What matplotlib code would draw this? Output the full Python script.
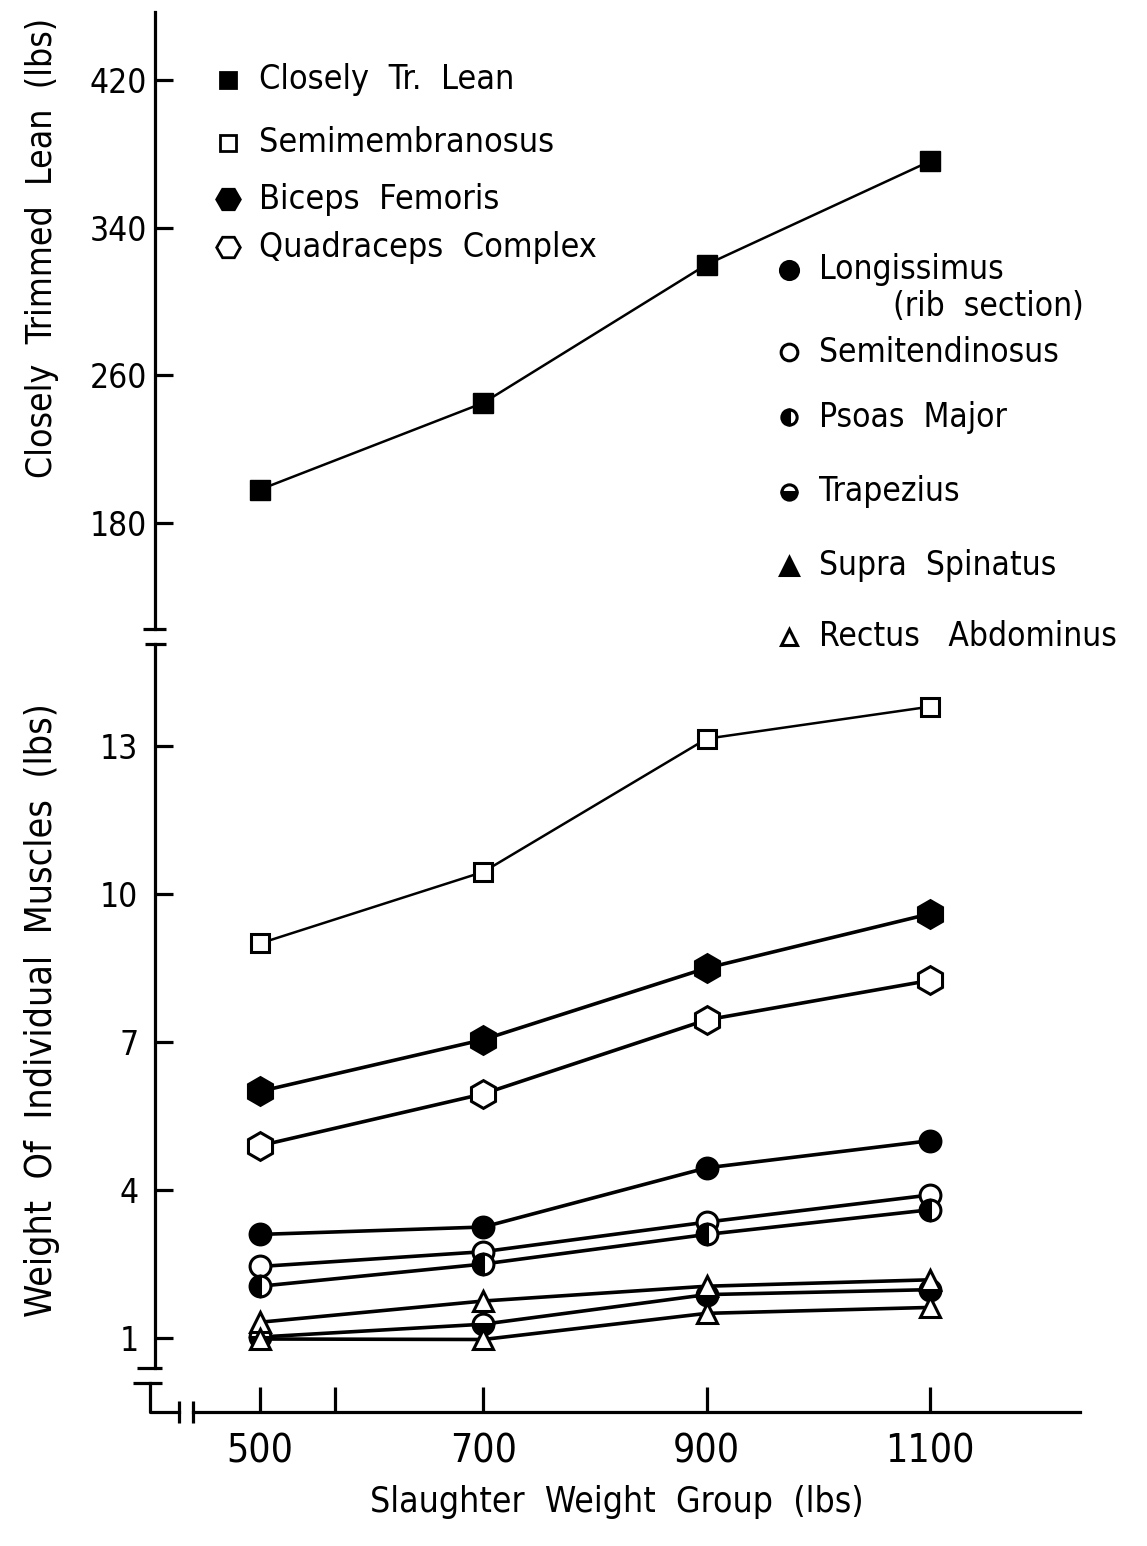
import matplotlib
matplotlib.use("Agg")
import matplotlib.pyplot as plt

plt.rcParams['font.family'] = ['DejaVu Sans']
plt.rcParams['font.stretch'] = 'condensed'

# slaughter weight groups (lbs)
groups = [500, 700, 900, 1100]

# upper panel: closely trimmed lean (lbs)
lean = [198, 245, 320, 376]

# lower panel: individual muscles (lbs)
semimembranosus = [9.0, 10.45, 13.15, 13.8]
biceps = [6.0, 7.05, 8.5, 9.6]
quadraceps = [4.9, 5.95, 7.45, 8.25]
longissimus = [3.1, 3.25, 4.45, 5.0]
semitendinosus = [2.45, 2.75, 3.35, 3.9]
psoas = [2.05, 2.5, 3.1, 3.6]
trapezius = [1.02, 1.28, 1.88, 1.98]
supra = [1.32, 1.75, 2.05, 2.18]
rectus = [0.98, 0.97, 1.5, 1.62]

top_ticks = [180, 260, 340, 420]
bot_ticks = [1, 4, 7, 10, 13]
x_ticks = [500, 567, 700, 900, 1100]
x_labels = ['500', '', '700', '900', '1100']

W, H = 1147, 1546
fig = plt.figure(figsize=(W / 100, H / 100), dpi=100)


def fx(px):
    return px / W


def fy(py):
    return 1 - py / H


ax_left, ax_right = 155, 1080
ax_top = fig.add_axes([fx(ax_left), fy(629), fx(ax_right - ax_left), fy(12) - fy(629)])
ax_bot = fig.add_axes([fx(ax_left), fy(1412), fx(ax_right - ax_left), fy(644) - fy(1412)])

xlim = (406, 1234.3)
lw = 2.3
for ax in (ax_top, ax_bot):
    ax.set_xlim(*xlim)
    ax.patch.set_alpha(0)
    for s in ('top', 'right'):
        ax.spines[s].set_visible(False)
    ax.spines['left'].set_linewidth(lw)
    ax.tick_params(axis='y', direction='in', length=13, width=lw, pad=6, labelsize=24)

# upper axes
ax_top.set_ylim(122.4, 456.9)
ax_top.spines['bottom'].set_visible(False)
ax_top.set_xticks([])
ax_top.set_yticks(top_ticks)
ax_top.plot(groups, lean, color='black', lw=1.8, marker='s', ms=14,
            mfc='black', mec='black', clip_on=False)

# lower axes
ax_bot.set_ylim(-0.5, 15.07)
ax_bot.spines['left'].set_bounds(0.392, 15.07)
ax_bot.spines['bottom'].set_bounds(440, 1234.3)
ax_bot.spines['bottom'].set_linewidth(lw)
ax_bot.set_yticks(bot_ticks)
ax_bot.tick_params(axis='y', pad=12)
ax_bot.set_xticks(x_ticks)
ax_bot.set_xticklabels(x_labels)
ax_bot.tick_params(axis='x', direction='in', length=18, width=lw, pad=15, labelsize=28)

mk = dict(color='black', lw=2.6, mec='black', mew=2.2, clip_on=False)
ax_bot.plot(groups, semimembranosus, marker='s', ms=13, mfc='white', lw=1.8,
            color='black', mec='black', mew=2.2)
ax_bot.plot(groups, biceps, marker='h', ms=20, mfc='black', **mk)
ax_bot.plot(groups, quadraceps, marker='h', ms=20, mfc='white', **mk)
ax_bot.plot(groups, longissimus, marker='o', ms=15, mfc='black', **mk)
ax_bot.plot(groups, semitendinosus, marker='o', ms=15, mfc='white', **mk)
ax_bot.plot(groups, psoas, marker='o', ms=15, mfc='black', mfcalt='white',
            fillstyle='left', **mk)
ax_bot.plot(groups, trapezius, marker='o', ms=15, mfc='black', mfcalt='white',
            fillstyle='bottom', **mk)
ax_bot.plot(groups, supra, marker='^', ms=15, mfc='white', **mk)
ax_bot.plot(groups, rectus, marker='^', ms=15, mfc='white', **mk)

# overlay in pixel coordinates for breaks and key
ov = fig.add_axes([0, 0, 1, 1])
ov.set_xlim(0, W)
ov.set_ylim(H, 0)
ov.axis('off')
seg = dict(color='black', lw=lw, solid_capstyle='butt')
ov.plot([143, 166], [629, 629], **seg)
ov.plot([145, 166], [644, 644], **seg)
ov.plot([137, 162], [1368, 1368], **seg)
ov.plot([133, 162], [1383, 1383], **seg)
ov.plot([150, 150, 179], [1383, 1412, 1412], color='black', lw=lw)
ov.plot([179, 179], [1401, 1423], **seg)
ov.plot([193, 193], [1401, 1423], **seg)

key1 = [
    ('s', 'black', 'full', 12, 'Closely  Tr.  Lean', 80),
    ('s', 'white', 'full', 11, 'Semimembranosus', 143),
    ('H', 'black', 'full', 17, 'Biceps  Femoris', 199),
    ('H', 'white', 'full', 17, 'Quadraceps  Complex', 247),
]
for m, fc, fs, ms, label, y in key1:
    ov.plot([228], [y], marker=m, ms=ms, mfc=fc, mec='black', mew=2, fillstyle=fs,
            mfcalt='white', color='black')
    ov.text(259, y, label, fontsize=24.5, va='center', ha='left')

key2 = [
    ('o', 'black', 'full', 13, 'Longissimus', 270),
    ('o', 'white', 'full', 12, 'Semitendinosus', 352),
    ('o', 'black', 'left', 11, 'Psoas  Major', 417),
    ('o', 'black', 'bottom', 11, 'Trapezius', 492),
    ('^', 'black', 'full', 13, 'Supra  Spinatus', 566),
    ('^', 'white', 'full', 11, 'Rectus   Abdominus', 637),
]
for m, fc, fs, ms, label, y in key2:
    ov.plot([789], [y], marker=m, ms=ms, mfc=fc, mec='black', mew=2.2, fillstyle=fs,
            mfcalt='white', color='black')
    ov.text(819, y, label, fontsize=24, va='center', ha='left')
ov.text(893, 306, '(rib  section)', fontsize=24, va='center', ha='left')

# axis titles
ov.text(42, 248, 'Closely  Trimmed  Lean  (lbs)', fontsize=25.5, rotation=90,
        ha='center', va='center')
ov.text(42, 1010, 'Weight  Of  Individual  Muscles  (lbs)', fontsize=27, rotation=90,
        ha='center', va='center')
ov.text(617, 1502, 'Slaughter  Weight  Group  (lbs)', fontsize=25.5, ha='center', va='center')

fig.savefig('out.png', dpi=100)
